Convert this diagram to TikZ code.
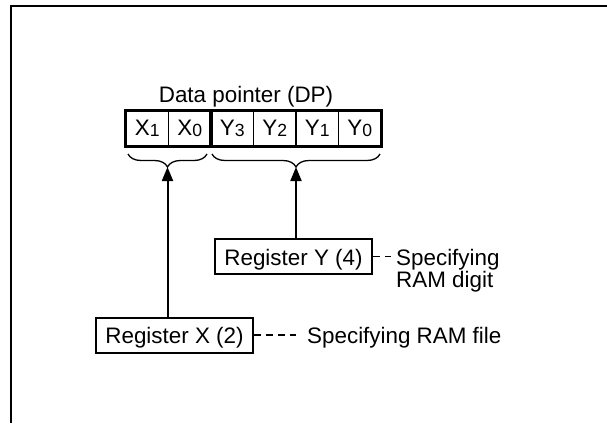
\documentclass[tikz,border=0pt]{standalone}
\usepackage{fontspec}
\setmainfont{Liberation Sans}
\usetikzlibrary{arrows.meta,decorations.pathreplacing}

\newcommand{\dpsub}[1]{\raisebox{-1pt}{\fontsize{17.6}{17}\selectfont #1}}

\begin{document}
\begin{tikzpicture}[x=1pt, y=-1pt, font=\fontsize{22.4}{22}\selectfont,
  cell/.style={draw, line width=1.3pt, minimum width=42.5pt, minimum height=35pt, inner sep=0pt},
  reg/.style={draw, line width=2pt, minimum width=157pt, minimum height=35pt, text height=17pt, text depth=0pt, inner sep=0pt},
  brc/.style={decorate, decoration={brace, amplitude=13pt}, line width=1.3pt},
  arr/.style={-{Triangle[width=11pt, length=14pt]}, line width=2pt},
  dsh/.style={line width=1.3pt, dash pattern=on 7pt off 5pt}]
      \useasboundingbox (0,0) rectangle (607,423);

      % 枠
      \draw[line width=2pt] (607,6) -- (11,6) -- (11,423);

      % データポインタ
      \node[anchor=base] (dplbl) at (246,102) {Data pointer (DP)};
      \node[cell] (x1) at (147.25,128.5) {X\dpsub{1}};
      \node[cell] (x0) at (189.75,128.5) {X\dpsub{0}};
      \node[cell] (y3) at (232.25,128.5) {Y\dpsub{3}};
      \node[cell] (y2) at (274.75,128.5) {Y\dpsub{2}};
      \node[cell] (y1) at (317.25,128.5) {Y\dpsub{1}};
      \node[cell] (y0) at (359.75,128.5) {Y\dpsub{0}};
      \draw[line width=2pt] (x1.north west) rectangle (x0.south east);
      \draw[line width=2pt] (y3.north west) rectangle (y0.south east);

      % 括弧
      \draw[brc] (207,154) -- (128,154);
      \draw[brc] (380,154) -- (212,154);
      \coordinate (xtip) at (167.5,167);
      \coordinate (ytip) at (296,167);

      % レジスタ
      \node[reg] (regy) at (293.5,256.5) {Register Y (4)};
      \node[reg] (regx) at (174.5,335) {Register X (2)};

      % 線を引く
      \draw[arr] (regx.north -| xtip) -- (xtip);
      \draw[arr] (regy.north -| ytip) -- (ytip);

      % 説明
      \coordinate (xd) at (296,335);
      \coordinate (yd) at (391,256.5);
      \draw[dsh] (regx.east) -- (xd);
      \draw[dsh] (regy.east) -- (yd);
      \node[anchor=base west, inner sep=0pt] (xnote) at (307,343) {Specifying RAM file};
      \node[anchor=north west, inner sep=0pt, align=left] (ynote) at (396,249.5) {Specifying\\RAM digit};
\end{tikzpicture}
\end{document}
